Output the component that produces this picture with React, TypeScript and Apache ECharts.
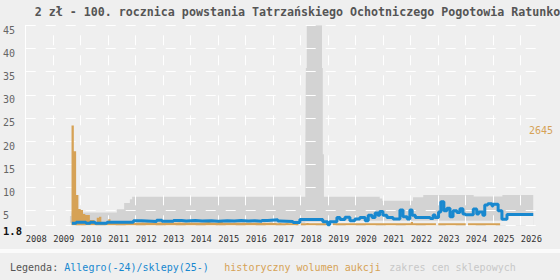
import React, { useEffect, useRef } from 'react';
import * as echarts from 'echarts';

const FONT = 'DejaVu Sans Mono';
const BG = '#efefef';

const TITLE = '2 zł - 100. rocznica powstania Tatrzańskiego Ochotniczego Pogotowia Ratunkowego';
const LEGEND_PREFIX = 'Legenda:';
const SERIES_PRICE = 'Allegro(-24)/sklepy(25-)';
const SERIES_VOLUME = 'historyczny wolumen aukcji';
const SERIES_BAND = 'zakres cen sklepowych';

const X_MIN = 2008;
const X_MAX = 2026.58;
const Y_MIN = 1.8;
const Y_MAX = 45;
const VOLUME_LABEL = 2645;

// shop price range (zakres cen sklepowych), step changes at these dates
const bandDates = [
  '2009-08-10', '2009-09-01', '2011-04-25', '2011-07-30', '2011-10-15', '2011-11-15',
  '2018-03-01', '2018-03-08', '2018-03-20', '2018-10-10', '2018-10-20', '2018-11-05',
  '2019-01-01', '2020-11-15', '2020-12-20', '2022-02-01', '2022-06-15', '2024-04-15',
  '2025-05-01', '2025-07-01', '2026-06-15',
];
const bandLow = [
  2.4, 2.4, 2.4, 2.4, 2.4, 2.4,
  2.6, 2.6, 2.6, 2.6, 2.6, 2.6,
  2.85, 2.85, 2.85, 2.85, 2.85, 2.85,
  3.15, 4.2, 4.2,
];
const bandHigh = [
  3.85, 4.6, 5.3, 6.65, 7.45, 8.0,
  17.2, 35.8, 45, 35.8, 17.2, 8.0,
  8.0, 7.6, 7.15, 7.9, 8.4, 8.05,
  8.4, 8.4, 8.4,
];

// Allegro(-24)/sklepy(25-) price line
const priceDates = [
  '2009-09-05', '2009-11-01', '2010-03-10', '2010-05-05', '2010-07-10', '2010-12-15',
  '2011-12-01', '2012-03-20', '2012-10-05', '2012-12-15', '2013-05-15', '2013-09-01',
  '2013-11-01', '2014-03-01', '2014-06-01', '2014-10-01', '2015-01-01', '2015-05-01',
  '2015-08-01', '2015-11-01', '2016-02-01', '2016-05-01', '2016-08-01', '2016-10-20',
  '2017-03-01', '2017-04-01', '2017-09-20', '2017-12-20', '2018-10-20', '2018-12-25',
  '2019-01-20', '2019-04-25', '2019-06-05', '2019-08-10', '2019-10-15', '2019-12-20',
  '2020-02-25', '2020-05-05', '2020-06-15', '2020-08-05', '2020-09-15', '2020-10-20',
  '2020-11-15', '2020-12-28', '2021-02-20', '2021-05-10', '2021-08-10', '2021-09-20',
  '2021-11-15', '2021-12-20', '2022-01-20', '2022-03-01', '2022-05-05', '2022-09-15',
  '2022-10-25', '2022-11-20', '2023-01-05', '2023-02-05', '2023-03-15', '2023-04-25',
  '2023-06-05', '2023-07-15', '2023-09-05', '2023-10-15', '2023-11-25', '2023-12-25',
  '2024-04-10', '2024-05-25', '2024-06-20', '2024-08-15', '2024-09-10', '2024-10-20',
  '2024-12-15', '2024-12-28', '2025-03-05', '2025-04-25', '2025-07-01', '2026-06-15',
];
const priceValues = [
  2.27, 2.5, 2.27, 2.5, 2.27, 2.5,
  2.8, 2.65, 2.95, 2.73, 2.9, 2.75,
  2.9, 2.75, 2.85, 2.7, 2.85, 2.75,
  2.9, 2.75, 2.85, 2.7, 2.9, 3.05,
  2.75, 2.65, 2.45, 3.1, 2.6, 1.95,
  2.6, 3.55, 3.1, 3.6, 2.85, 3.2,
  3.55, 2.8, 4.0, 3.55, 4.5, 4.0,
  4.8, 4.0, 3.55, 3.2, 5.15, 3.7,
  3.2, 5.15, 4.0, 3.55, 3.5, 3.3,
  4.05, 3.55, 4.7, 6.9, 5.0, 5.5,
  3.7, 5.0, 4.6, 5.4, 4.3, 4.1,
  5.35, 4.3, 4.7, 4.0, 6.2, 6.5,
  6.0, 6.4, 5.0, 3.15, 4.2, 4.2,
];

// historyczny wolumen aukcji: monthly, starting at volumeStart
const volumeStart = '2009-09';
const auctionVolume = [
  2645, 1960, 803, 434, // 2009 Sep-Dec
  408, 303, 276, 276, 145, 145, 92, 205, 232, 92, 92, 92, // 2010
  163, 82, 86, 78, 80, 74, 78, 82, 72, 76, 72, 68, // 2011
  74, 70, 76, 72, 78, 70, 74, 80, 72, 70, 76, 72, // 2012
  70, 74, 72, 78, 70, 72, 76, 70, 74, 72, 70, 76, // 2013
  72, 70, 74, 70, 72, 76, 88, 92, 74, 70, 72, 70, // 2014
  98, 102, 74, 70, 72, 68, 70, 72, 70, 68, 72, 70, // 2015
  68, 70, 66, 70, 72, 68, 66, 70, 68, 66, 70, 68, // 2016
  64, 62, 66, 60, 62, 64, 60, 62, 60, 62, 64, 0, // 2017
  62, 60, 64, 60, 62, 60, 58, 62, 60, 58, 62, 60, // 2018
  0, 0, 58, 60, 60, 58, 58, 60, 62, 58, 60, 58, // 2019
  60, 58, 62, 58, 60, 62, 58, 60, 58, 62, 60, 58, // 2020
  60, 58, 62, 60, 58, 60, 62, 58, 60, 58, 62, 60, // 2021
  95, 60, 58, 62, 60, 58, 60, 62, 58, 60, 58, 0, // 2022
  60, 58, 62, 60, 58, 60, 62, 58, 60, 58, 62, 60, // 2023
  0, 60, 58, 62, 60, 58, 60, 62, 58, 60, 58, 62, // 2024
  60, 58, 60, // 2025 Jan-Mar
];

const toYear = (s: string): number => {
  const [y, m, d] = s.split('-').map(Number);
  return y + (m - 1 + ((d || 1) - 1) / 30.5) / 12;
};

export default function App() {
  const ref = useRef<HTMLDivElement>(null);

  useEffect(() => {
    if (!ref.current) return;
    const chart = echarts.init(ref.current, undefined, { renderer: 'svg' });

    const bandHighData = bandDates.map((d, i) => [toYear(d), bandHigh[i]]);
    const bandLowData = bandDates.map((d, i) => [toYear(d), bandLow[i]]);
    const priceData = priceDates.map((d, i) => [toYear(d), priceValues[i]]);
    const [vy, vm] = volumeStart.split('-').map(Number);
    // each month's volume is held from the month's start to the next month's start
    const monthStart = (i: number) => {
      const mi = vm - 1 + i;
      return vy + Math.floor(mi / 12) + (mi % 12) / 12;
    };
    const volumeData = auctionVolume.map((v, i) => [monthStart(i), v]);
    volumeData.push([monthStart(auctionVolume.length), 0]);

    const option: any = {
      animation: false,
      backgroundColor: BG,
      textStyle: { fontFamily: FONT },
      grid: { left: 25.7, right: 23.3, top: 25.3, bottom: 54.5 },
      xAxis: {
        type: 'value',
        min: X_MIN,
        max: X_MAX,
        interval: 1,
        z: 2,
        axisLine: { show: false },
        axisTick: { show: false },
        axisLabel: {
          showMaxLabel: false,
          formatter: (v: number) => (Number.isInteger(v) ? String(v) : ''),
          align: 'left',
          margin: 9,
          color: '#333',
          fontSize: 8.8,
          fontFamily: FONT,
        },
        splitLine: {
          show: true,
          showMaxLine: false,
          lineStyle: { color: '#ffffff', width: 1, type: [10, 10], dashOffset: 10 },
        },
      },
      yAxis: [
        {
          type: 'value',
          min: Y_MIN,
          max: Y_MAX,
          splitNumber: 9,
          minInterval: 5,
          maxInterval: 5,
          z: 2,
          axisLine: { show: true, lineStyle: { color: '#ffffff', width: 1 } },
          axisTick: { show: false },
          axisLabel: {
            align: 'left',
            margin: 22.7,
            verticalAlign: 'top',
            fontSize: 10,
            color: '#666',
            fontFamily: FONT,
            formatter: (v: number) => (v === Y_MIN ? '{min|1.8}' : String(v)),
            rich: { min: { color: '#111', fontWeight: 'bold', fontSize: 10.5, fontFamily: FONT } },
          },
          splitLine: { show: true, lineStyle: { color: '#ffffff', width: 1, type: [10, 10] } },
        },
        {
          type: 'value',
          min: 0,
          max: VOLUME_LABEL * 2,
          interval: VOLUME_LABEL,
          position: 'right',
          axisLine: { show: false },
          axisTick: { show: false },
          splitLine: { show: false },
          axisLabel: {
            formatter: (v: number) => (v === VOLUME_LABEL ? String(v) : ''),
            align: 'right',
            margin: 16.3,
            verticalAlign: 'top',
            color: '#d6a256',
            fontSize: 10,
            fontFamily: FONT,
          },
        },
      ],
      graphic: [
        {
          type: 'text',
          left: 34.7,
          top: 5.5,
          style: { text: TITLE, font: `bold 11.65px "${FONT}"`, fill: '#555' },
        },
        {
          type: 'rect',
          shape: { x: 0, y: 249, width: 560, height: 4 },
          style: { fill: '#fbfbfb' },
        },
        { type: 'text', x: 10, y: 267, style: { text: LEGEND_PREFIX, font: `10px "${FONT}"`, fill: '#555', verticalAlign: 'middle' } },
        { type: 'text', x: 64.3, y: 267, style: { text: SERIES_PRICE, font: `10px "${FONT}"`, fill: '#1888cf', verticalAlign: 'middle' } },
        { type: 'text', x: 224.3, y: 267, style: { text: SERIES_VOLUME, font: `10px "${FONT}"`, fill: '#d6a256', verticalAlign: 'middle' } },
        { type: 'text', x: 389.3, y: 267, style: { text: SERIES_BAND, font: `10px "${FONT}"`, fill: '#c8c8c8', verticalAlign: 'middle' } },
      ],
      series: [
        {
          type: 'line',
          name: SERIES_BAND,
          data: bandHighData,
          step: 'end',
          symbol: 'none',
          lineStyle: { width: 0, opacity: 0 },
          areaStyle: { color: '#d3d3d3', opacity: 1, origin: 'start' },
          z: 1,
        },
        {
          type: 'line',
          name: 'band-low',
          data: bandLowData,
          step: 'end',
          symbol: 'none',
          silent: true,
          lineStyle: { width: 0, opacity: 0 },
          areaStyle: { color: BG, opacity: 1, origin: 'start' },
          z: 1,
        },
        {
          type: 'line',
          name: SERIES_VOLUME,
          yAxisIndex: 1,
          data: volumeData,
          step: 'end',
          symbol: 'none',
          lineStyle: { width: 0, opacity: 0 },
          areaStyle: { color: '#d6a256', opacity: 1, origin: 'start' },
          z: 3,
        },
        {
          type: 'line',
          name: SERIES_PRICE,
          data: priceData,
          step: 'end',
          symbol: 'none',
          lineStyle: { color: '#1888cf', width: 3 },
          z: 4,
        },
      ],
    };

    chart.setOption(option);
    return () => chart.dispose();
  }, []);

  return (
    <div
      ref={ref}
      style={{ position: 'fixed', left: 0, top: 0, width: 560, height: 280 }}
    />
  );
}
